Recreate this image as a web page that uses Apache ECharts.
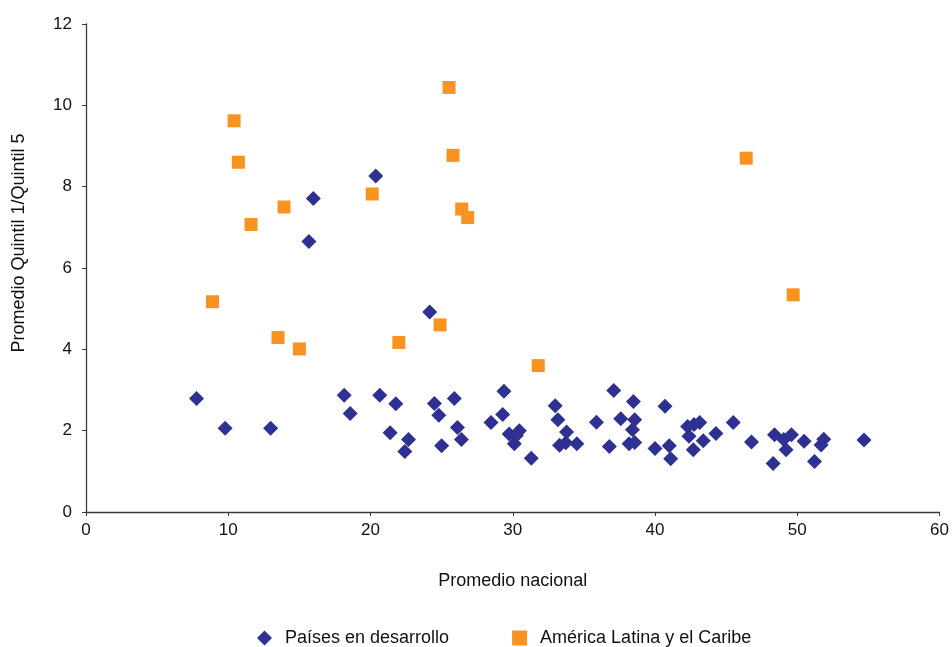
<!DOCTYPE html>
<html><head><meta charset="utf-8">
<script src="https://cdn.jsdelivr.net/npm/echarts@6/dist/echarts.min.js"></script>
<style>html,body{margin:0;padding:0;background:#fff}#c{width:952px;height:647px}</style>
</head><body><div id="c"></div>
<script>
const seriesNames = ['Países en desarrollo', 'América Latina y el Caribe'];
const xTitle = 'Promedio nacional';
const yTitle = 'Promedio Quintil 1/Quintil 5';
const paisesEnDesarrollo = [
  [7.77,2.79],[9.78,2.06],[12.98,2.06],[15.67,6.65],[15.98,7.71],[18.15,2.87],[18.57,2.42],
  [20.37,8.26],[20.65,2.87],[21.38,1.95],[21.78,2.66],[22.41,1.49],[22.67,1.78],[24.16,4.92],
  [24.49,2.67],[24.80,2.38],[25.0,1.63],[25.89,2.79],[26.11,2.08],[26.39,1.78],[28.47,2.20],
  [29.29,2.40],[29.38,2.97],[29.75,1.92],[30.11,1.68],[30.46,2.00],[30.25,1.88],[31.30,1.32],
  [32.98,2.61],[33.17,2.27],[33.29,1.64],[33.73,1.70],[33.78,1.97],[34.50,1.68],[35.88,2.21],
  [36.79,1.61],[37.10,2.99],[37.59,2.29],[38.18,1.68],[38.41,2.02],[38.48,2.72],[38.57,2.27],
  [38.57,1.71],[40.0,1.56],[40.70,2.60],[41.0,1.63],[41.10,1.31],[42.29,2.10],[42.74,2.15],
  [43.14,2.20],[42.39,1.86],[43.39,1.75],[42.69,1.53],[44.28,1.93],[45.50,2.20],[46.78,1.72],
  [48.40,1.90],[48.30,1.19],[49.05,1.78],[49.59,1.90],[49.21,1.53],[50.48,1.74],[51.86,1.79],
  [51.67,1.65],[51.21,1.24],[54.69,1.77]
];
const americaLatina = [
  [25.52,10.44],[10.41,9.62],[10.71,8.60],[25.80,8.77],[20.12,7.82],[13.92,7.50],[11.60,7.07],
  [26.41,7.45],[26.83,7.24],[8.89,5.17],[13.50,4.29],[15.00,4.01],[24.89,4.60],[21.99,4.17],
  [31.79,3.60],[46.41,8.70],[49.71,5.34]
];
const xTicks = {min:0, max:60, interval:10};
const yTicks = {min:0, max:12, interval:2};

const font = 'Liberation Sans, Arial, sans-serif';
const axisLine = {show:true, onZero:false, lineStyle:{color:'#3a3a3a', width:1.3}};
const chart = echarts.init(document.getElementById('c'));
chart.setOption({
  backgroundColor:'#fff',
  animation:false,
  grid:{left:86, right:11, top:24, bottom:135},
  xAxis:{type:'value', min:xTicks.min, max:xTicks.max, interval:xTicks.interval,
    name:xTitle, nameLocation:'middle', nameGap:60,
    nameTextStyle:{fontFamily:font, fontSize:18, color:'#111'},
    axisLine:axisLine, axisTick:{show:true, length:4, lineStyle:{color:'#3a3a3a'}},
    axisLabel:{fontFamily:font, fontSize:17, color:'#111', margin:10},
    splitLine:{show:false}},
  yAxis:{type:'value', min:yTicks.min, max:yTicks.max, interval:yTicks.interval,
    name:yTitle, nameLocation:'middle', nameGap:58,
    nameTextStyle:{fontFamily:font, fontSize:18, color:'#111', padding:[0,0,0,50]},
    axisLine:axisLine, axisTick:{show:true, length:4, lineStyle:{color:'#3a3a3a'}},
    axisLabel:{fontFamily:font, fontSize:17, color:'#111', margin:14},
    splitLine:{show:false}},
  legend:{left:252, top:624, itemGap:63, itemWidth:15, itemHeight:15,
    textStyle:{fontFamily:font, fontSize:18, color:'#111', padding:[0,0,0,8]},
    data:[{name:seriesNames[0], icon:'diamond'},{name:seriesNames[1], icon:'rect'}]},
  series:[
    {name:seriesNames[0], type:'scatter', symbol:'diamond', symbolSize:15,
     itemStyle:{color:'#2E3192', opacity:1}, data:paisesEnDesarrollo},
    {name:seriesNames[1], type:'scatter', symbol:'rect', symbolSize:13,
     itemStyle:{color:'#F7931E', opacity:1}, data:americaLatina}
  ]
});
</script></body></html>
